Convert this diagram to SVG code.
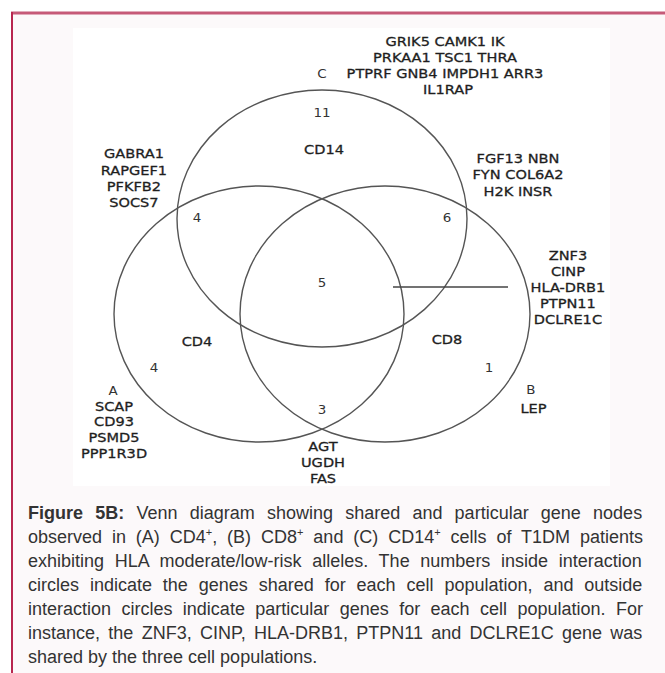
<svg xmlns="http://www.w3.org/2000/svg" width="665" height="673" viewBox="0 0 665 673">
<style>
.v{font-family:"DejaVu Sans",Verdana,sans-serif;font-size:13px;fill:#1e1e1e;stroke:#1e1e1e;stroke-width:0.3;text-anchor:middle}
.n{font-size:12px;fill:#333;stroke:none}
.cap{font-family:"Liberation Sans",Arial,sans-serif;font-size:18px;fill:#333}
.ring{fill:none;stroke:#555;stroke-width:1.4}
</style>
<rect width="665" height="673" fill="#fff"/>
<rect x="12" y="13" width="653" height="660" fill="#fcf9fa"/>
<rect x="73" y="28" width="537" height="458" fill="#fff"/>
<line x1="11" y1="13" x2="665" y2="13" stroke="#c65a78" stroke-width="3"/>
<line x1="12" y1="12" x2="12" y2="673" stroke="#b8264f" stroke-width="2"/>

<g id="set-A">
<ellipse class="ring" cx="259" cy="314" rx="145" ry="128"/>
</g>
<g id="set-B">
<ellipse class="ring" cx="385" cy="314" rx="145" ry="128"/>
</g>
<g id="set-C">
<ellipse class="ring" cx="322" cy="218.5" rx="145" ry="128.5"/>
</g>

<g id="connectors">
<line x1="393" y1="287" x2="508" y2="287" stroke="#444" stroke-width="1.4"/>
</g>

<g id="labels" transform="scale(1.12 1)">
<g id="genes-C-only">
<text class="v" x="397.3" y="45.7">GRIK5 CAMK1 IK</text>
<text class="v" x="397.3" y="61.7">PRKAA1 TSC1 THRA</text>
<text class="v" x="397.3" y="77.7">PTPRF GNB4 IMPDH1 ARR3</text>
<text class="v" x="400" y="93.7">IL1RAP</text>
</g>
<text class="v n" x="287.5" y="77.7">C</text>
<text class="v n" x="287.5" y="117.5">11</text>
<text class="v" x="289.3" y="153.7">CD14</text>
<g id="genes-AC">
<text class="v" x="119.6" y="157.7">GABRA1</text>
<text class="v" x="119.6" y="174.7">RAPGEF1</text>
<text class="v" x="119.6" y="190.7">PFKFB2</text>
<text class="v" x="119.6" y="206.7">SOCS7</text>
</g>
<text class="v n" x="175.9" y="222.5">4</text>
<text class="v n" x="287.5" y="287.5">5</text>
<text class="v n" x="399.1" y="222.5">6</text>
<g id="genes-BC">
<text class="v" x="462.5" y="162.7">FGF13 NBN</text>
<text class="v" x="462.5" y="178.7">FYN COL6A2</text>
<text class="v" x="462.5" y="195.7">H2K INSR</text>
</g>
<g id="genes-ABC">
<text class="v" x="507.1" y="259.7">ZNF3</text>
<text class="v" x="507.1" y="275.7">CINP</text>
<text class="v" x="507.1" y="291.7">HLA-DRB1</text>
<text class="v" x="507.1" y="307.7">PTPN11</text>
<text class="v" x="507.1" y="323.7">DCLRE1C</text>
</g>
<text class="v" x="399.1" y="343.7">CD8</text>
<text class="v n" x="436.6" y="372.5">1</text>
<text class="v n" x="474.1" y="393.7">B</text>
<text class="v" x="476.3" y="412.7">LEP</text>
<text class="v" x="175.9" y="345.7">CD4</text>
<text class="v n" x="137.5" y="372.5">4</text>
<g id="genes-A-only">
<text class="v n" x="100.9" y="394.7">A</text>
<text class="v" x="101.8" y="410.7">SCAP</text>
<text class="v" x="101.8" y="425.7">CD93</text>
<text class="v" x="101.8" y="441.7">PSMD5</text>
<text class="v" x="101.8" y="457.7">PPP1R3D</text>
</g>
<text class="v n" x="287.5" y="414.5">3</text>
<g id="genes-AB">
<text class="v" x="288.4" y="450.7">AGT</text>
<text class="v" x="288.4" y="467.2">UGDH</text>
<text class="v" x="288.4" y="482.7">FAS</text>
</g>
</g>

<g id="caption" class="cap">
<text x="28" y="519" word-spacing="7.2"><tspan font-weight="bold">Figure 5B:</tspan> Venn diagram showing shared and particular gene nodes</text>
<text x="28" y="543" word-spacing="4.9">observed in (A) CD4<tspan font-size="11" dy="-7">+</tspan><tspan dy="7">, (B) CD8</tspan><tspan font-size="11" dy="-7">+</tspan><tspan dy="7"> and (C) CD14</tspan><tspan font-size="11" dy="-7">+</tspan><tspan dy="7"> cells of T1DM patients</tspan></text>
<text x="28" y="567" word-spacing="5.7">exhibiting HLA moderate/low-risk alleles. The numbers inside interaction</text>
<text x="28" y="591" word-spacing="5.9">circles indicate the genes shared for each cell population, and outside</text>
<text x="28" y="615" word-spacing="5.4">interaction circles indicate particular genes for each cell population. For</text>
<text x="28" y="639" word-spacing="3.3">instance, the ZNF3, CINP, HLA-DRB1, PTPN11 and DCLRE1C gene was</text>
<text x="28" y="663">shared by the three cell populations.</text>
</g>
</svg>
